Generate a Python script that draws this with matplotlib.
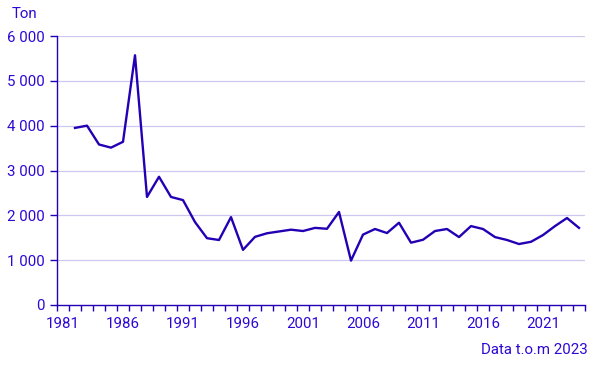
import numpy as np
import matplotlib
matplotlib.use('Agg')
import matplotlib.pyplot as plt
from matplotlib.ticker import FuncFormatter, FixedLocator

years = list(range(1982, 2025))
tons = [3950, 4000, 3580, 3510, 3640, 5570, 2410, 2860, 2410, 2340,
        1850, 1490, 1450, 1960, 1230, 1520, 1600, 1640, 1680, 1650,
        1720, 1700, 2075, 990, 1570, 1695, 1605, 1835, 1390, 1455,
        1650, 1695, 1515, 1760, 1695, 1515, 1450, 1360, 1410, 1560,
        1760, 1940, 1720]
label_years = [1981, 1986, 1991, 1996, 2001, 2006, 2011, 2016, 2021]
yticks = [0, 1000, 2000, 3000, 4000, 5000, 6000]

txt = '#2e08d4'
line_col = '#2400b4'
grid_col = '#cdc8f0'

plt.rcParams['font.family'] = ['Roboto', 'DejaVu Sans']

fig = plt.figure(figsize=(6.06, 3.69), dpi=100)
ax = fig.add_axes([57/606, 1-305/369, (585-57)/606, (305-36)/369])

ax.plot(years, tons, color=line_col, lw=1.7, solid_joinstyle='round')

ax.set_xlim(1980.5, 2024.5)
ax.set_ylim(0, 6000)
ax.set_yticks(yticks)
ax.yaxis.set_major_formatter(FuncFormatter(lambda v, p: f'{int(v):,}'.replace(',', ' ')))
ax.set_xticks(label_years)
ax.xaxis.set_minor_locator(FixedLocator(np.arange(1980.5, 2025, 1.0)))

for y in yticks[1:]:
    ax.axhline(y, color=grid_col, lw=0.9, zorder=0)

for s in ['top', 'right']:
    ax.spines[s].set_visible(False)
for s in ['left', 'bottom']:
    ax.spines[s].set_color(line_col)
    ax.spines[s].set_linewidth(1.0)

ax.tick_params(axis='y', colors=line_col, labelcolor=txt, length=5, width=1,
               labelsize=10.8, pad=4)
ax.tick_params(axis='x', which='major', length=0, labelcolor=txt,
               labelsize=10.8, pad=9)
ax.tick_params(axis='x', which='minor', length=4, width=1, colors=line_col)

fig.text(12/606, 1-14/369, 'Ton', color=txt, fontsize=10.8, ha='left', va='center')
fig.text(588/606, 1-350/369, 'Data t.o.m 2023', color=txt, fontsize=10.8,
         ha='right', va='center')

fig.savefig('out.png', dpi=100)
